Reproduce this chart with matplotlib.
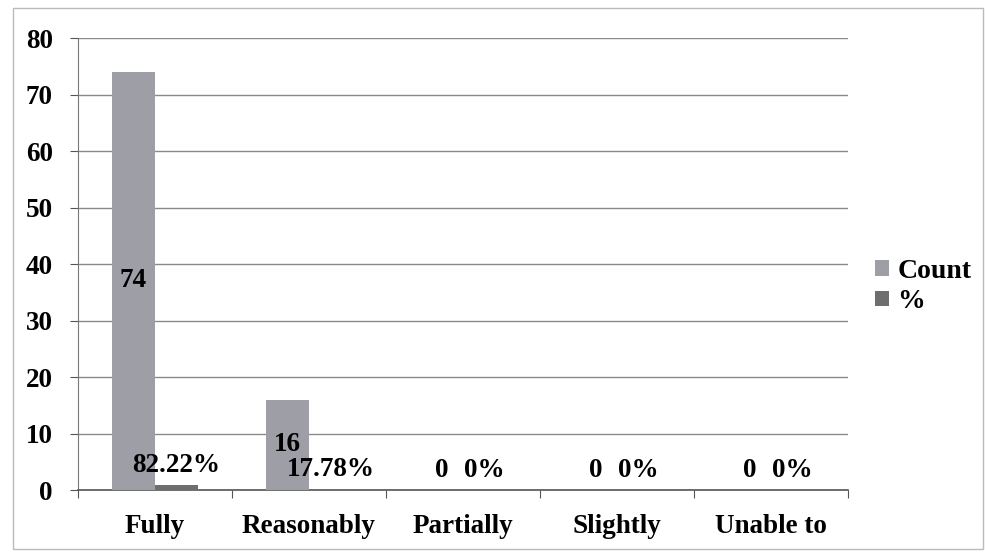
import matplotlib
matplotlib.use("Agg")
import matplotlib.pyplot as plt
from matplotlib.patches import Rectangle
import numpy as np

categories = ["Fully", "Reasonably", "Partially", "Slightly", "Unable to"]
count_values = [74, 16, 0, 0, 0]
pct_values = [0.8222, 0.1778, 0, 0, 0]
count_labels = ["74", "16", "0", "0", "0"]
pct_labels = ["82.22%", "17.78%", "0%", "0%", "0%"]
series_names = ["Count", "%"]
yticks = [0, 10, 20, 30, 40, 50, 60, 70, 80]

plt.rcParams['font.family'] = ['Liberation Serif', 'DejaVu Serif']
plt.rcParams['font.weight'] = 'bold'

fig = plt.figure(figsize=(9.85, 5.6), dpi=100)
ax = fig.add_axes([0.079, 0.125, 0.782, 0.807])

x = np.arange(len(categories)) + 0.5
w = 0.28
c_count = "#9e9ea6"
c_pct = "#6e6e6e"
ax.bar(x - w / 2, count_values, w, color=c_count, label=series_names[0], zorder=3)
ax.bar(x + w / 2, pct_values, w, color=c_pct, label=series_names[1], zorder=3)

fs = 19.5
for xi, v, lab in zip(x, count_values, count_labels):
    if v > 0:
        ax.text(xi - w / 2, v / 2, lab, ha="center", va="center", fontsize=fs,
                fontweight="bold", zorder=5)
    else:
        ax.annotate(lab, (xi - w / 2, v), xytext=(0, 14), textcoords="offset points",
                    ha="center", va="center", fontsize=fs, fontweight="bold", zorder=5)
for xi, v, lab in zip(x, pct_values, pct_labels):
    ax.annotate(lab, (xi + w / 2, v), xytext=(0, 14), textcoords="offset points",
                ha="center", va="center", fontsize=fs, fontweight="bold", zorder=5)

ax.set_xlim(0, len(categories))
ax.set_ylim(0, 80)
ax.set_yticks(yticks)
ax.set_yticklabels([str(t) for t in yticks], fontsize=19.5, fontweight="bold")
ax.set_xticks(np.arange(len(categories) + 1))
ax.set_xticklabels([])
ax.set_xticks(x, minor=True)
ax.set_xticklabels(categories, minor=True, fontsize=19.5, fontweight="bold")
ax.tick_params(axis="x", which="minor", length=0, pad=17)
ax.tick_params(axis="x", which="major", length=6, color="#555555", direction="out")
ax.tick_params(axis="y", length=6, color="#555555", direction="out", pad=12)

ax.grid(axis="y", color="#8a8a8a", linewidth=1.0, zorder=0)
for s in ["top", "right"]:
    ax.spines[s].set_visible(False)
ax.spines["left"].set_color("#777777")
ax.spines["bottom"].set_color("#555555")
ax.spines["bottom"].set_linewidth(1.2)

leg = ax.legend(loc="center left", bbox_to_anchor=(1.01, 0.45), frameon=False,
                borderaxespad=0.3,
                prop={"size": 20, "weight": "bold"}, handlelength=0.5,
                handleheight=0.5, handletextpad=0.3, labelspacing=0.2)

fig.patches.append(Rectangle((0.013, 0.02), 0.985, 0.965, transform=fig.transFigure,
                             fill=False, edgecolor="#bbbbbb", linewidth=1.0))

fig.savefig("out.png", dpi=100)
